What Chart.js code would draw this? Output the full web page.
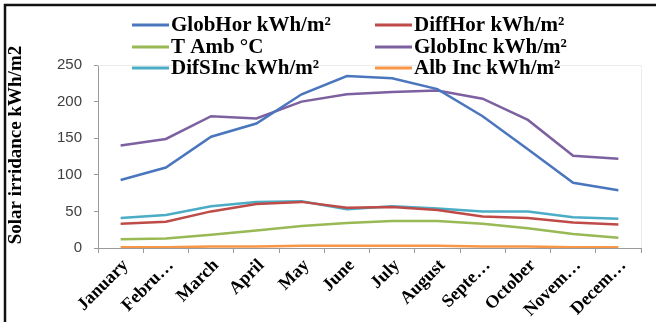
<!DOCTYPE html>
<html>
<head>
<meta charset="utf-8">
<script src="https://cdn.jsdelivr.net/npm/chart.js@4.4.1/dist/chart.umd.min.js"></script>
<style>
  body { margin: 0; background: #fff; }
  #wrap { width: 656px; height: 322px; position: relative; }
</style>
</head>
<body>
<div id="wrap"><canvas id="solarChart" width="656" height="322"></canvas></div>
<script>
// Datos
const months = ['January', 'Febru…', 'March', 'April', 'May', 'June', 'July', 'August', 'Septe…', 'October', 'Novem…', 'Decem…'];
const globHor = [93, 110, 152, 170, 210, 235, 232, 217, 180, 135, 89, 79];
const diffHor = [33, 36, 50, 60, 63, 55, 56, 52, 43, 41, 35, 32];
const tAmb = [12, 13, 18, 24, 30, 34, 37, 37, 33, 27, 19, 14];
const globInc = [140, 149, 180, 177, 200, 210, 213, 215, 204, 175, 126, 122];
const difSInc = [41, 45, 57, 63, 64, 53, 57, 54, 50, 50, 42, 40];
const albInc = [1, 1, 2, 2, 3, 3, 3, 3, 2, 2, 1, 1];
const yTicks = [0, 50, 100, 150, 200, 250];

const seriesNames = ['GlobHor kWh/m²', 'DiffHor kWh/m²', 'T Amb °C', 'GlobInc kWh/m²', 'DifSInc kWh/m²', 'Alb Inc kWh/m²'];
const seriesColors = ['#4a76be', '#be4b48', '#98b954', '#7d60a0', '#4bacc6', '#f79646'];
const seriesData = [globHor, diffHor, tAmb, globInc, difSInc, albInc];

const serif = "'Liberation Serif', 'DejaVu Serif', serif";

// Leyenda en dos columnas, marco y título del eje Y
const extras = {
  id: 'extras',
  afterDraw(chart) {
    const ctx = chart.ctx;
    const area = chart.chartArea;
    ctx.save();
    // borde tenue del área de trazado
    ctx.strokeStyle = '#ececec';
    ctx.lineWidth = 1;
    ctx.beginPath();
    ctx.moveTo(area.left, area.top + 0.5);
    ctx.lineTo(area.right + 0.5, area.top + 0.5);
    ctx.lineTo(area.right + 0.5, area.bottom);
    ctx.stroke();

    // marco negro (arriba e izquierda)
    ctx.strokeStyle = '#111';
    ctx.lineWidth = 2.5;
    ctx.beginPath();
    ctx.moveTo(5, 322);
    ctx.lineTo(5, 5);
    ctx.lineTo(656, 5);
    ctx.stroke();

    // leyenda
    const colX = [132, 375];
    const rowY = [25, 47, 68];
    ctx.font = 'bold 21px ' + serif;
    ctx.textBaseline = 'middle';
    ctx.textAlign = 'left';
    seriesNames.forEach((name, i) => {
      const x = colX[i % 2];
      const y = rowY[Math.floor(i / 2)];
      ctx.strokeStyle = seriesColors[i];
      ctx.lineWidth = 3;
      ctx.beginPath();
      ctx.moveTo(x, y);
      ctx.lineTo(x + 37, y);
      ctx.stroke();
      ctx.fillStyle = '#000';
      ctx.fillText(name, x + 39, y + 1);
    });

    // título del eje Y
    ctx.translate(16, 145);
    ctx.rotate(-Math.PI / 2);
    ctx.textAlign = 'center';
    ctx.font = 'bold 19px ' + serif;
    ctx.fillStyle = '#000';
    ctx.fillText('Solar irridance kWh/m2', 0, 0);
    ctx.restore();
  }
};

new Chart(document.getElementById('solarChart'), {
  type: 'line',
  data: {
    labels: months,
    datasets: seriesData.map((d, i) => ({
      label: seriesNames[i],
      data: d,
      borderColor: seriesColors[i],
      backgroundColor: seriesColors[i],
      borderWidth: 2.5,
      pointRadius: 0,
      tension: 0,
      fill: false
    }))
  },
  options: {
    responsive: false,
    animation: false,
    layout: { padding: { top: 65, right: 15, left: 0, bottom: 0 } },
    plugins: { legend: { display: false }, tooltip: { enabled: false } },
    scales: {
      x: {
        offset: true,
        grid: { drawOnChartArea: false, drawTicks: true, tickLength: 5, color: '#9a9a9a', offset: true },
        border: { color: '#9a9a9a' },
        ticks: {
          minRotation: 45, maxRotation: 45, autoSkip: false, padding: 2, labelOffset: 5,
          color: '#000',
          font: { family: serif, size: 18, weight: 'bold' }
        },
        afterFit(scale) { scale.height = 74; }
      },
      y: {
        min: 0, max: 250,
        afterBuildTicks(scale) { scale.ticks = yTicks.map(v => ({ value: v })); },
        grid: { drawOnChartArea: false, drawTicks: true, tickLength: 4, color: '#9a9a9a' },
        border: { color: '#9a9a9a' },
        ticks: {
          padding: 12,
          color: '#404040',
          font: { family: "'Liberation Sans', Arial, sans-serif", size: 15 }
        },
        afterFit(scale) { scale.width = 98; }
      }
    }
  },
  plugins: [extras]
});
</script>
</body>
</html>
